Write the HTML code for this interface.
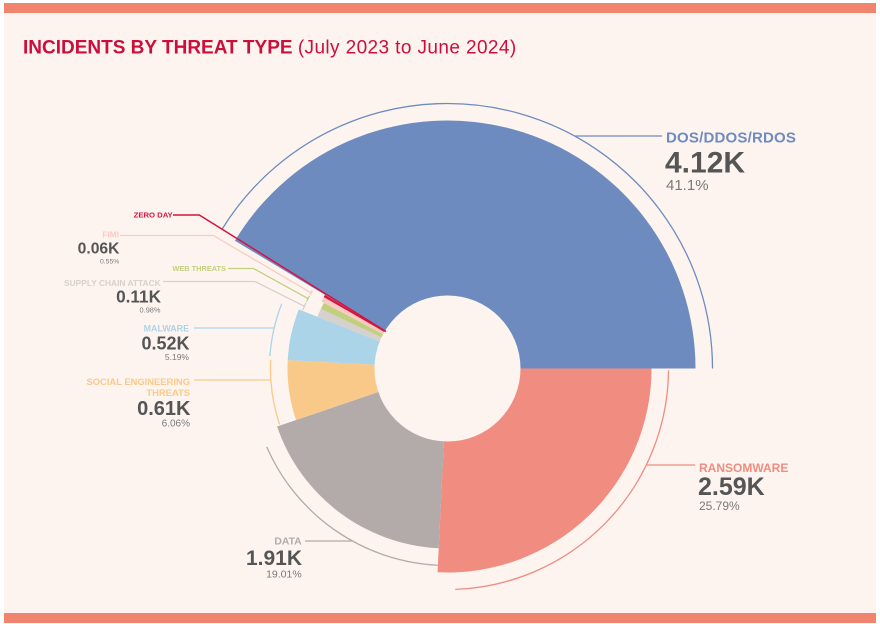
<!DOCTYPE html>
<html>
<head>
<meta charset="utf-8">
<style>
  html, body { margin:0; padding:0; background:#ffffff; }
  body { width:880px; height:624px; overflow:hidden; position:relative; }
  svg { position:absolute; left:0; top:0; }
  text { font-family:"Liberation Sans", Arial, sans-serif; }
</style>
</head>
<body>
<svg width="880" height="624" viewBox="0 0 880 624" xmlns="http://www.w3.org/2000/svg">
  <!-- panel -->
  <rect x="4" y="3" width="872" height="620" fill="#fdf4f0"/>
  <rect x="4" y="3" width="872" height="10" fill="#f0846e"/>
  <rect x="4" y="613" width="872" height="10" fill="#f0846e"/>

  <!-- title -->
  <text x="23" y="53.5" font-size="19" font-weight="bold" fill="#cc0e3b">INCIDENTS BY THREAT TYPE <tspan font-weight="normal" letter-spacing="0.4">(July 2023 to June 2024)</tspan></text>

  <!-- slices -->
  <path d="M447.5,368.5 L695.5,368.5 A248,248 0 0 0 234.92,240.77 Z" fill="#6e8bbf"/>
  <path d="M447.5,368.5 L651.5,368.5 A204,204 0 0 1 437.53,572.26 Z" fill="#f08c80"/>
  <path d="M447.5,368.5 L438.71,548.29 A180,180 0 0 1 277.10,426.51 Z" fill="#b3aba9"/>
  <path d="M447.5,368.5 L296.03,420.06 A160,160 0 0 1 287.72,360.13 Z" fill="#f9c98a"/>
  <path d="M447.5,368.5 L287.72,360.13 A160,160 0 0 1 298.84,309.34 Z" fill="#acd4e8"/>
  <path d="M447.5,368.5 L317.42,316.73 A140,140 0 0 1 320.82,308.89 Z" fill="#d6d0ce"/>
  <path d="M447.5,368.5 L320.82,308.89 A140,140 0 0 1 323.89,302.77 Z" fill="#c1d07f"/>
  <path d="M447.5,368.5 L321.24,301.37 A143,143 0 0 1 323.66,297.0 Z" fill="#f9cbc2"/>
  <path d="M447.5,368.5 L323.66,297.0 A143,143 0 0 1 324.92,294.85 Z" fill="#d4143f"/>

  <!-- hole -->
  <circle cx="447.5" cy="368.5" r="73" fill="#fdf4f0"/>

  <!-- guide arcs -->
  <g fill="none" stroke-width="1.3">
    <path d="M712.5,368.5 A265,265 0 0 0 222.04,229.25" stroke="#6e8bbf"/>
    <path d="M668.49,370.43 A221,221 0 0 1 455.21,589.37" stroke="#f08c80"/>
    <path d="M437.88,565.27 A197,197 0 0 1 266.70,446.74" stroke="#b3aba9"/>
    <path d="M279.55,424.37 A177,177 0 0 1 270.71,359.85" stroke="#f9c98a"/>
    <path d="M269.93,356.08 A178,178 0 0 1 281.66,303.84" stroke="#acd4e8"/>
    <path d="M302.86,310.06 A156,156 0 0 1 306.12,302.57" stroke="#d6d0ce"/>
    <path d="M306.58,301.58 A156,156 0 0 1 309.38,295.98" stroke="#c1d07f"/>
    <path d="M309.89,295.02 A156,156 0 0 1 312.40,290.5" stroke="#f9cbc2"/>
  </g>

  <!-- leader lines -->
  <g fill="none" stroke-width="1.3">
    <path d="M575,136 H662" stroke="#6e8bbf"/>
    <path d="M647,465 H695" stroke="#f08c80"/>
    <path d="M305,541 H352" stroke="#b3aba9"/>
    <path d="M194,380 H271" stroke="#f9c98a"/>
    <path d="M194,328 H274" stroke="#acd4e8"/>
    <path d="M163,281.5 H255 L304.4,306.3" stroke="#d6d0ce"/>
    <path d="M228,268.5 H253.5 L308,298.6" stroke="#c1d07f"/>
    <path d="M120,235.5 H213.3 L311,292.8" stroke="#f9cbc2"/>
    <path d="M173,215 H199.3 L386,331.5" stroke="#d4143f" stroke-width="1.5"/>
  </g>

  <!-- DOS label -->
  <text x="666" y="142.7" font-size="15" font-weight="bold" fill="#6e8bbf" letter-spacing="0.2">DOS/DDOS/RDOS</text>
  <text x="665" y="172.3" font-size="30" font-weight="bold" fill="#555555">4.12K</text>
  <text x="666" y="190" font-size="15" fill="#7a7a7a">41.1%</text>

  <!-- Ransomware -->
  <text x="699" y="472" font-size="12" font-weight="bold" fill="#f08c80">RANSOMWARE</text>
  <text x="698" y="495" font-size="25" font-weight="bold" fill="#555555">2.59K</text>
  <text x="699" y="510" font-size="12" fill="#7a7a7a">25.79%</text>

  <!-- Data -->
  <g text-anchor="end">
    <text x="301.7" y="544.3" font-size="10.4" font-weight="bold" fill="#b3aba9">DATA</text>
    <text x="302" y="565" font-size="21" font-weight="bold" fill="#555555">1.91K</text>
    <text x="301.7" y="577.5" font-size="10.5" fill="#7a7a7a">19.01%</text>

    <!-- Social -->
    <text x="190" y="385" font-size="9.4" font-weight="bold" fill="#f9c98a">SOCIAL ENGINEERING</text>
    <text x="190" y="396" font-size="9.4" font-weight="bold" fill="#f9c98a">THREATS</text>
    <text x="190.5" y="415" font-size="20" font-weight="bold" fill="#555555">0.61K</text>
    <text x="190" y="426.7" font-size="10" fill="#7a7a7a">6.06%</text>

    <!-- Malware -->
    <text x="189" y="331.7" font-size="8.9" font-weight="bold" fill="#acd4e8">MALWARE</text>
    <text x="189.5" y="349.3" font-size="18" font-weight="bold" fill="#555555">0.52K</text>
    <text x="189" y="360" font-size="8.5" fill="#7a7a7a">5.19%</text>

    <!-- Supply chain -->
    <text x="160.7" y="286" font-size="8.4" font-weight="bold" fill="#d6d0ce">SUPPLY CHAIN ATTACK</text>
    <text x="161" y="302.7" font-size="17.2" font-weight="bold" fill="#555555">0.11K</text>
    <text x="160.5" y="312.7" font-size="7.4" fill="#7a7a7a">0.98%</text>

    <!-- Web threats -->
    <text x="226" y="271" font-size="7.4" font-weight="bold" fill="#c1d07f">WEB THREATS</text>

    <!-- FIMI -->
    <text x="119" y="237.3" font-size="8.3" font-weight="bold" fill="#f9cbc2">FIMI</text>
    <text x="119.5" y="253.3" font-size="15.7" font-weight="bold" fill="#555555">0.06K</text>
    <text x="119.3" y="263.3" font-size="6.8" fill="#7a7a7a">0.55%</text>

    <!-- Zero day -->
    <text x="172.7" y="217.3" font-size="7.7" font-weight="bold" fill="#d4143f">ZERO DAY</text>
  </g>
</svg>
</body>
</html>
